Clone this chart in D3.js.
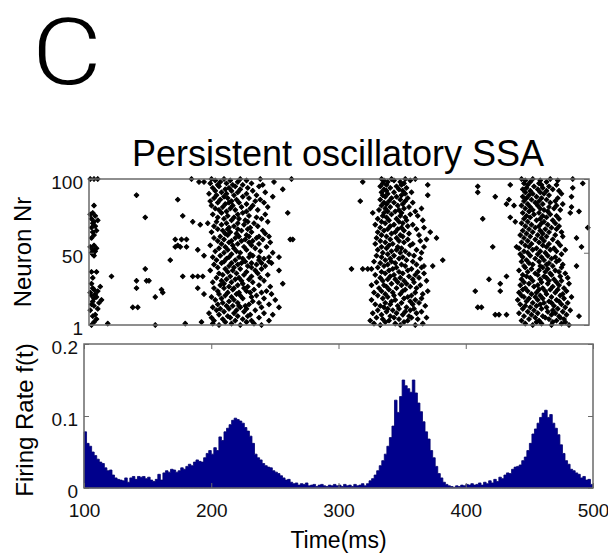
<!DOCTYPE html>
<html>
<head>
<meta charset="utf-8">
<script src="https://cdn.jsdelivr.net/npm/d3@7"></script>
<style>
  body { margin: 0; background: #fff; }
  svg { display: block; font-family: "Liberation Sans", Arial, sans-serif; }
</style>
</head>
<body>
<div id="chart"></div>
<script>
// Raster: spike times (ms) per neuron, index 0 = neuron 1
const spikeTrains = [
  [102, 153, 204, 221, 238, 333, 349, 361, 455, 470, 484],
  [115, 177, 199, 214, 232, 328, 345, 367, 449, 462, 478],
  [104, 190, 209, 226, 337, 352, 458, 471, 481],
  [200, 217, 230, 244, 325, 340, 355, 446, 460, 474],
  [106, 207, 223, 335, 348, 363, 452, 468, 480],
  [198, 213, 236, 330, 344, 358, 370, 457, 465, 477],
  [103, 211, 219, 227, 341, 356, 448, 463, 476, 492],
  [105, 204, 229, 247, 334, 351, 425, 428, 434, 454, 470, 482],
  [196, 216, 240, 327, 346, 362, 444, 459, 473],
  [208, 224, 338, 353, 366, 451, 467, 479],
  [101, 202, 218, 233, 331, 343, 357, 456, 471, 485],
  [107, 205, 212, 226, 339, 348, 360, 447, 462, 475],
  [135, 139, 199, 221, 238, 252, 336, 354, 411, 414, 453, 466, 481],
  [104, 210, 215, 220, 225, 333, 347, 369, 449, 458, 472],
  [102, 203, 228, 244, 329, 341, 359, 445, 461, 478],
  [108, 207, 219, 236, 337, 350, 364, 455, 464, 470, 483],
  [103, 212, 231, 342, 357, 450, 468, 476],
  [110, 201, 216, 249, 326, 345, 361, 443, 459, 474],
  [104, 206, 223, 240, 335, 352, 366, 452, 463, 480],
  [106, 153, 198, 214, 230, 339, 355, 448, 457, 470, 486],
  [102, 209, 221, 234, 331, 344, 358, 446, 461, 477],
  [105, 192, 204, 218, 246, 337, 349, 367, 454, 466, 479],
  [101, 159, 211, 220, 229, 238, 328, 343, 361, 444, 458, 473],
  [107, 203, 226, 242, 334, 351, 371, 409, 429, 451, 465, 482],
  [104, 158, 215, 232, 340, 353, 447, 460, 469, 475],
  [103, 138, 187, 200, 208, 216, 224, 332, 346, 362, 449, 463, 480],
  [109, 212, 227, 245, 338, 357, 456, 471],
  [205, 219, 236, 326, 336, 350, 365, 445, 459, 476],
  [102, 208, 223, 255, 342, 354, 429, 452, 467, 484],
  [199, 214, 231, 330, 347, 360, 448, 462, 474],
  [138, 146, 148, 206, 222, 240, 335, 352, 370, 455, 468, 478],
  [210, 217, 228, 339, 345, 359, 420, 446, 461, 472],
  [103, 202, 220, 237, 333, 349, 364, 453, 466, 483],
  [118, 175, 183, 187, 191, 213, 230, 341, 356, 434, 450, 464, 477],
  [207, 224, 243, 329, 344, 361, 447, 459, 470],
  [204, 218, 235, 337, 351, 368, 457, 469, 481],
  [102, 106, 211, 226, 334, 348, 363, 451, 465, 476],
  [197, 215, 233, 252, 340, 355, 444, 460, 473],
  [145, 209, 221, 238, 310, 319, 323, 326, 343, 358, 454, 467],
  [203, 216, 230, 331, 346, 366, 449, 463, 478],
  [212, 227, 241, 336, 353, 368, 375, 448, 461, 471, 490],
  [200, 219, 234, 339, 350, 362, 455, 466, 479],
  [206, 214, 222, 230, 238, 246, 333, 345, 452, 468],
  [208, 225, 244, 328, 342, 359, 446, 460, 474],
  [165, 202, 217, 236, 337, 354, 383, 450, 464, 476],
  [210, 223, 240, 341, 348, 365, 457, 470],
  [199, 212, 220, 228, 236, 244, 252, 334, 351, 447, 462, 473],
  [104, 192, 205, 231, 330, 344, 360, 453, 467],
  [103, 214, 229, 339, 356, 445, 459, 478],
  [102, 208, 221, 247, 335, 349, 366, 451, 465],
  [105, 201, 218, 237, 342, 353, 448, 461, 474],
  [103, 187, 211, 226, 331, 346, 362, 455, 469, 481],
  [106, 204, 216, 233, 338, 350, 444, 458, 472],
  [101, 169, 173, 178, 209, 224, 242, 334, 347, 368, 423, 442, 452, 466, 494],
  [104, 171, 197, 215, 230, 340, 357, 449, 463, 477],
  [206, 219, 236, 329, 343, 359, 454, 468],
  [212, 228, 245, 337, 352, 446, 460, 475],
  [203, 214, 222, 231, 333, 348, 365, 451, 464],
  [169, 174, 178, 208, 225, 239, 261, 263, 341, 355, 370, 457, 471],
  [102, 200, 217, 234, 330, 346, 378, 448, 462, 490],
  [205, 220, 228, 236, 244, 338, 351, 453, 466, 479],
  [104, 211, 226, 334, 349, 364, 445, 459, 473],
  [209, 218, 241, 342, 356, 450, 463],
  [103, 198, 213, 230, 331, 345, 373, 455, 468, 478],
  [106, 207, 222, 239, 336, 352, 447, 461],
  [203, 211, 219, 227, 339, 347, 362, 452, 465, 474],
  [102, 212, 229, 333, 350, 368, 457, 470, 499],
  [105, 200, 216, 235, 341, 355, 449, 460, 476],
  [189, 206, 224, 329, 344, 359, 454, 467],
  [103, 195, 210, 219, 232, 337, 351, 446, 462, 473],
  [104, 183, 202, 227, 243, 334, 348, 441, 451, 464],
  [107, 214, 225, 340, 354, 367, 458, 471],
  [102, 208, 220, 238, 331, 346, 415, 448, 461, 476],
  [145, 203, 216, 234, 338, 353, 437, 453, 466],
  [105, 175, 211, 228, 335, 349, 363, 450, 463, 474],
  [101, 199, 219, 241, 342, 357, 456, 469],
  [103, 206, 223, 259, 327, 336, 350, 447, 460, 485],
  [210, 226, 339, 345, 361, 452, 467, 492],
  [204, 217, 235, 332, 348, 455, 464, 477],
  [201, 213, 229, 337, 352, 366, 449, 461, 472],
  [207, 222, 243, 341, 356, 453, 468, 486],
  [104, 198, 215, 231, 334, 347, 440, 446, 459, 474],
  [209, 226, 338, 351, 434, 451, 463, 479],
  [203, 212, 220, 240, 336, 344, 359, 457, 469],
  [197, 214, 233, 317, 340, 353, 448, 460, 473],
  [171, 205, 218, 237, 333, 349, 436, 454, 466],
  [200, 211, 228, 342, 355, 450, 462, 475],
  [208, 223, 247, 337, 346, 425, 447, 458, 486],
  [138, 202, 216, 234, 335, 350, 371, 452, 468],
  [196, 210, 226, 339, 353, 455, 464, 478],
  [206, 219, 241, 334, 344, 358, 411, 449, 461],
  [201, 214, 231, 338, 351, 453, 466, 476],
  [209, 221, 255, 336, 348, 447, 459, 471],
  [199, 212, 227, 341, 354, 450, 463, 487],
  [204, 217, 236, 333, 346, 411, 456, 468],
  [203, 215, 223, 239, 338, 350, 371, 437, 451, 462, 474],
  [197, 210, 230, 335, 352, 448, 460, 495],
  [188, 192, 205, 219, 248, 319, 339, 349, 453, 466],
  [201, 213, 226, 336, 344, 357, 449, 461, 475],
  [101, 104, 107, 182, 198, 208, 221, 237, 262, 334, 342, 353, 361, 446, 455, 469, 487]
];

// Firing rate histogram, 2 ms bins starting at 100 ms
const binStart = 100;
const binWidth = 2;
const firingRate = [
  0.078, 0.062, 0.058, 0.050, 0.045, 0.040, 0.036, 0.034, 0.028, 0.024,
  0.025, 0.018, 0.014, 0.012, 0.011, 0.010, 0.014, 0.008, 0.014, 0.016,
  0.012, 0.016, 0.015, 0.016, 0.013, 0.015, 0.011, 0.009, 0.012, 0.019,
  0.011, 0.021, 0.024, 0.022, 0.026, 0.025, 0.022, 0.024, 0.028, 0.026,
  0.030, 0.033, 0.031, 0.036, 0.039, 0.037, 0.036, 0.042, 0.048, 0.052,
  0.047, 0.056, 0.052, 0.071, 0.066, 0.078, 0.083, 0.088, 0.094, 0.097,
  0.095, 0.093, 0.090, 0.084, 0.079, 0.072, 0.062, 0.047, 0.042, 0.039,
  0.034, 0.031, 0.029, 0.028, 0.024, 0.022, 0.020, 0.017, 0.014, 0.011,
  0.012, 0.008, 0.006, 0.007, 0.004, 0.006, 0.005, 0.007, 0.003, 0.004,
  0.005, 0.002, 0.004, 0.005, 0.003, 0.002, 0.004, 0.003, 0.005, 0.003,
  0.004, 0.002, 0.005, 0.003, 0.004, 0.002, 0.005, 0.003, 0.004, 0.006,
  0.003, 0.006, 0.010, 0.013, 0.018, 0.024, 0.031, 0.038, 0.047, 0.058,
  0.070, 0.086, 0.122, 0.105, 0.127, 0.150, 0.142, 0.138, 0.133, 0.150,
  0.132, 0.118, 0.106, 0.092, 0.078, 0.068, 0.052, 0.042, 0.030, 0.020,
  0.014, 0.008, 0.005, 0.003, 0.002, 0.001, 0.003, 0.002, 0.004, 0.003,
  0.005, 0.004, 0.006, 0.004, 0.005, 0.007, 0.004, 0.008, 0.006, 0.010,
  0.007, 0.012, 0.009, 0.015, 0.013, 0.018, 0.021, 0.020, 0.026, 0.029,
  0.030, 0.032, 0.038, 0.043, 0.052, 0.062, 0.075, 0.082, 0.090, 0.098,
  0.104, 0.108, 0.098, 0.102, 0.090, 0.083, 0.074, 0.060, 0.048, 0.038,
  0.033, 0.026, 0.024, 0.021, 0.019, 0.014, 0.016, 0.011, 0.012, 0.005
];

const timeTicks = [100, 200, 300, 400, 500];
const neuronTicks = [1, 50, 100];
const rateTicks = [0, 0.1, 0.2];

const width = 608, height = 554;
const svg = d3.select("#chart").append("svg")
  .attr("width", width)
  .attr("height", height);

// Panel letter and title
svg.append("text")
  .attr("transform", "translate(32,84) scale(1.17,1)")
  .style("font-family", "Roboto, 'Liberation Sans', sans-serif")
  .style("font-weight", 300)
  .style("font-size", "92px")
  .text("C");

svg.append("text")
  .attr("x", 338).attr("y", 166)
  .attr("text-anchor", "middle")
  .style("font-size", "36px")
  .text("Persistent oscillatory SSA");

// ---- Raster panel ----
const rx = d3.scaleLinear().domain([100, 500]).range([89, 589]);
const ry = d3.scaleLinear().domain([1, 100]).range([325, 179]);

const spikes = [];
spikeTrains.forEach((times, i) => {
  times.forEach(t => spikes.push({ t: t, n: i + 1 }));
});

// small diamond-ish blob, like MATLAB's '.' marker after scaling
const marker = d3.symbol().type(d3.symbolSquare).size(11);

svg.append("g")
  .selectAll("path")
  .data(spikes)
  .join("path")
  .attr("d", marker)
  .attr("transform", d => `translate(${rx(d.t)},${ry(d.n)}) rotate(45)`)
  .attr("fill", "#000")
  .attr("stroke", "#000")
  .attr("stroke-width", 1)
  .attr("stroke-linejoin", "round");

svg.append("rect")
  .attr("x", rx(100)).attr("y", ry(100))
  .attr("width", rx(500) - rx(100))
  .attr("height", ry(1) - ry(100))
  .attr("fill", "none")
  .attr("stroke", "#6a6a6a")
  .attr("stroke-width", 1.5);

const rLeft = svg.append("g")
  .attr("transform", `translate(${rx(100)},0)`)
  .call(d3.axisLeft(ry).tickValues(neuronTicks).tickSize(-5).tickPadding(6));
const rRight = svg.append("g")
  .attr("transform", `translate(${rx(500)},0)`)
  .call(d3.axisRight(ry).tickValues(neuronTicks).tickSize(-5).tickFormat(""));

// ---- Firing rate panel ----
const hx = d3.scaleLinear().domain([100, 500]).range([84, 593]);
const hy = d3.scaleLinear().domain([0, 0.2]).range([488, 344]);

const bins = firingRate.map((v, i) => ({ t: binStart + i * binWidth, v: v }));
bins.push({ t: binStart + bins.length * binWidth, v: 0 });

const area = d3.area()
  .x(d => hx(d.t))
  .y0(hy(0))
  .y1(d => hy(d.v))
  .curve(d3.curveStepAfter);

svg.append("path")
  .datum(bins)
  .attr("d", area)
  .attr("fill", "#00008c")
  .attr("stroke", "#000070")
  .attr("stroke-width", 0.8);

svg.append("rect")
  .attr("x", hx(100)).attr("y", hy(0.2))
  .attr("width", hx(500) - hx(100))
  .attr("height", hy(0) - hy(0.2))
  .attr("fill", "none")
  .attr("stroke", "#6a6a6a")
  .attr("stroke-width", 1.5);

const hBottom = svg.append("g")
  .attr("transform", `translate(0,${hy(0)})`)
  .call(d3.axisBottom(hx).tickValues(timeTicks).tickSize(-5).tickPadding(16));
const hTop = svg.append("g")
  .attr("transform", `translate(0,${hy(0.2)})`)
  .call(d3.axisTop(hx).tickValues(timeTicks).tickSize(-5).tickFormat(""));
const hLeft = svg.append("g")
  .attr("transform", `translate(${hx(100)},0)`)
  .call(d3.axisLeft(hy).tickValues(rateTicks).tickSize(-5).tickPadding(6)
    .tickFormat(d => d === 0 ? "0" : d3.format(".1f")(d)));
const hRight = svg.append("g")
  .attr("transform", `translate(${hx(500)},0)`)
  .call(d3.axisRight(hy).tickValues(rateTicks).tickSize(-5).tickFormat(""));

[rLeft, rRight, hBottom, hTop, hLeft, hRight].forEach(g => {
  g.select(".domain").remove();
  g.selectAll(".tick line").attr("stroke", "#6a6a6a");
  g.selectAll(".tick text")
    .attr("fill", "#111")
    .style("font-size", "19px")
    .style("font-family", "'Liberation Sans', Arial, sans-serif");
});
rLeft.selectAll(".tick text").attr("dy", "0.5em");
hLeft.selectAll(".tick text").attr("dy", "0.5em");

// Axis labels
svg.append("text")
  .attr("transform", `translate(31,${(ry(1) + ry(100)) / 2}) rotate(-90)`)
  .attr("text-anchor", "middle")
  .style("font-size", "24px")
  .text("Neuron Nr");

svg.append("text")
  .attr("transform", `translate(33,${(hy(0) + hy(0.2)) / 2 + 4}) rotate(-90)`)
  .attr("text-anchor", "middle")
  .style("font-size", "24px")
  .text("Firing Rate f(t)");

svg.append("text")
  .attr("x", (hx(100) + hx(500)) / 2)
  .attr("y", 548)
  .attr("text-anchor", "middle")
  .style("font-size", "23px")
  .text("Time(ms)");
</script>
</body>
</html>
